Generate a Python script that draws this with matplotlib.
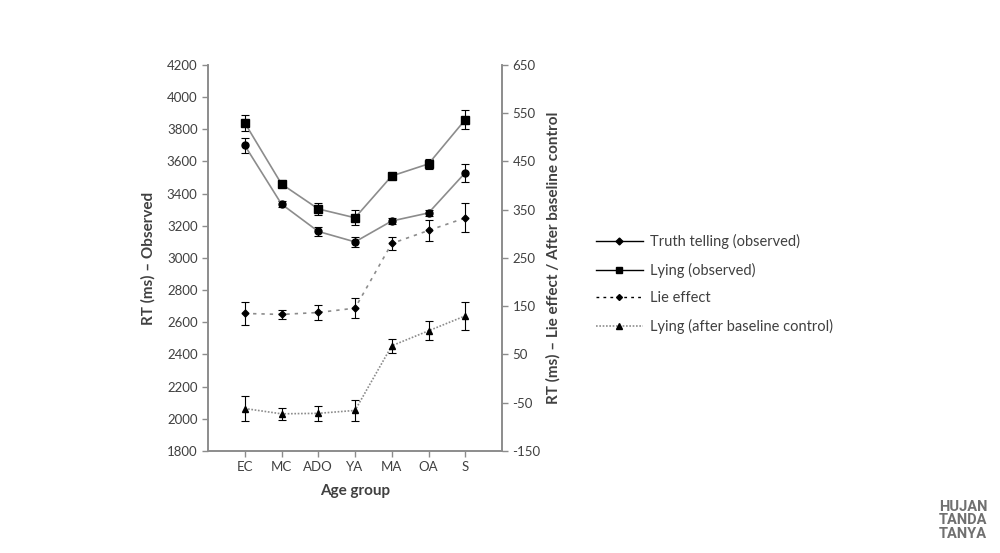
import matplotlib.pyplot as plt
from matplotlib.lines import Line2D

plt.rcParams['font.family'] = ['Lato', 'DejaVu Sans']
plt.rcParams['axes.unicode_minus'] = False

# данные
groups = ["EC", "MC", "ADO", "YA", "MA", "OA", "S"]

truth = [3700, 3335, 3165, 3100, 3230, 3280, 3530]
truth_err = [45, 20, 30, 33, 20, 20, 55]

lying = [3840, 3460, 3305, 3250, 3510, 3585, 3860]
lying_err = [52, 20, 35, 48, 20, 30, 57]

lie_effect = [135, 133, 137, 146, 280, 307, 333]
lie_effect_err = [24, 10, 15, 21, 14, 21, 30]

lying_baseline = [-62, -73, -72, -66, 68, 99, 130]
lying_baseline_err = [25, 12, 15, 21, 15, 20, 29]

text_col = "#404040"
line_col = "#8c8c8c"
spine_col = "#8c8c8c"

fig = plt.figure(figsize=(10, 5.53), dpi=100)
ax = fig.add_axes([0.208, 0.1845, 0.294, 0.698])
ax2 = ax.twinx()

x = list(range(len(groups)))

err_kw = dict(ecolor="black", elinewidth=0.8, capsize=3, capthick=0.8)

ax.errorbar(x, truth, yerr=truth_err, color=line_col, lw=1.2, marker="o",
            ms=5, mfc="black", mec="black", **err_kw)
ax.errorbar(x, lying, yerr=lying_err, color=line_col, lw=1.2, marker="s",
            ms=5.5, mfc="black", mec="black", **err_kw)
ax2.errorbar(x, lie_effect, yerr=lie_effect_err, color=line_col, lw=1.2,
             ls=(0, (2, 3)), marker="D", ms=3.5, mfc="black", mec="black", **err_kw)
ax2.errorbar(x, lying_baseline, yerr=lying_baseline_err, color=line_col, lw=1.2,
             ls=(0, (1, 1)), marker="^", ms=5, mfc="black", mec="black", **err_kw)

ax.set_xlim(-1, 7)
ax.set_ylim(1800, 4200)
ax.set_yticks(range(1800, 4201, 200))
ax2.set_ylim(-150, 650)
ax2.set_yticks(range(-150, 651, 100))
ax.set_xticks(x)
ax.set_xticklabels(groups)

for a in (ax, ax2):
    a.spines["top"].set_visible(False)
    for s in ("left", "right", "bottom"):
        a.spines[s].set_color(spine_col)
        a.spines[s].set_linewidth(1.2)
    a.tick_params(colors=spine_col, labelcolor=text_col, labelsize=9.5,
                  length=4, width=1)

ax.set_ylabel("RT (ms) – Observed", fontsize=11, fontweight="bold",
              color=text_col, labelpad=8)
ax2.set_ylabel("RT (ms) – Lie effect / After baseline control", fontsize=11,
               fontweight="bold", color=text_col, labelpad=4)
ax.set_xlabel("Age group", fontsize=11, fontweight="bold", color=text_col,
              labelpad=8)

# легенда
handles = [
    Line2D([], [], color="black", lw=1, marker="D", ms=3.5, mfc="black"),
    Line2D([], [], color="black", lw=1, marker="s", ms=4.5, mfc="black"),
    Line2D([], [], color="black", lw=1, ls=(0, (2, 3)), marker="D", ms=3, mfc="black"),
    Line2D([], [], color=line_col, lw=1.2, ls=(0, (1, 1)), marker="^", ms=4, mfc="black",
           mec="black"),
]
labels = ["Truth telling (observed)", "Lying (observed)", "Lie effect",
          "Lying (after baseline control)"]
fig.legend(handles, labels, loc="upper left", bbox_to_anchor=(0.583, 0.6),
           frameon=False, fontsize=10.5, labelcolor=text_col, handlelength=3.2,
           labelspacing=0.92, handletextpad=0.5)

fig.text(0.963, 0.022, "HUJAN\nTANDA\nTANYA", ha="center", va="bottom",
         fontsize=10.5, color="#707070", linespacing=0.95, fontweight="bold",
         family=["Roboto", "DejaVu Sans"])

fig.savefig("out.png", dpi=100)
